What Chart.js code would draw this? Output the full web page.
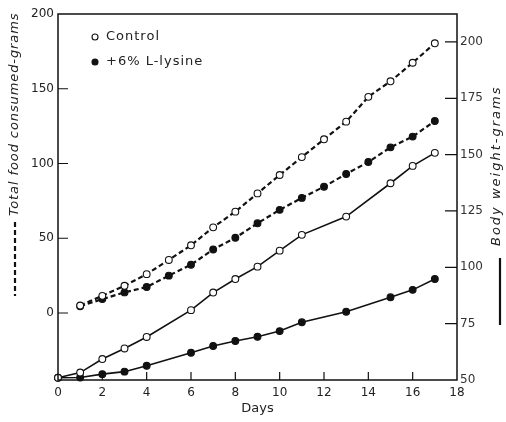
<!DOCTYPE html>
<html>
<head>
<meta charset="utf-8">
<script src="https://cdn.jsdelivr.net/npm/chart.js@4/dist/chart.umd.min.js"></script>
<style>
  html, body { margin: 0; padding: 0; background: #fff; }
  #chart { display: block; }
</style>
</head>
<body>
<canvas id="chart" width="506" height="422"></canvas>
<script>
// days on which food intake was recorded
const foodDays = [1, 2, 3, 4, 5, 6, 7, 8, 9, 10, 11, 12, 13, 14, 15, 16, 17];
const controlFood = [5, 11.5, 18.2, 26, 35.5, 45.3, 57.3, 67.8, 80, 92.3, 104.3, 116.2, 128, 144.6, 155, 167.4, 180.4];
const lysineFood = [4.5, 9.3, 13.8, 17.4, 25, 32.3, 42.5, 50.3, 60, 69, 77, 84.5, 93, 101, 110.8, 118, 128.4];

// days on which body weight was recorded
const weightDays = [0, 1, 2, 3, 4, 6, 7, 8, 9, 10, 11, 13, 15, 16, 17];
const controlWeight = [51, 53.3, 59.3, 64, 69.1, 81, 88.8, 94.8, 100.3, 107.4, 114.4, 122.5, 137.3, 145, 150.8];
const lysineWeight = [51, 51.1, 52.6, 53.7, 56.3, 62.1, 65.1, 67.3, 69.2, 71.7, 75.6, 80.3, 86.7, 90, 94.8];

const xTicks = [0, 2, 4, 6, 8, 10, 12, 14, 16, 18];
const foodTicks = [0, 50, 100, 150, 200];
const weightTicks = [50, 75, 100, 125, 150, 175, 200];

const legendLabels = ['Control', '+6% L-lysine'];

const ink = '#111';
const font = "'DejaVu Sans', sans-serif";

function pts(xs, ys) {
    return xs.map((x, i) => ({ x: x, y: ys[i] }));
}

function series(label, xs, ys, axis, filled, dashed) {
    return {
        label: label,
        data: pts(xs, ys),
        yAxisID: axis,
        borderColor: ink,
        borderWidth: dashed ? 2.2 : 1.6,
        borderDash: dashed ? [5, 3] : [],
        tension: 0,
        pointRadius: 3.4,
        pointBorderWidth: 1.1,
        pointBorderColor: ink,
        pointBackgroundColor: filled ? ink : '#fff',
        clip: false
    };
}

// frame, inward tick marks, side titles and legend
const decor = {
    id: 'decor',
    afterDatasetsDraw(chart) {
        const ctx = chart.ctx;
        const a = chart.chartArea;
        const sx = chart.scales.x, sl = chart.scales.yFood, sr = chart.scales.yWeight;
        ctx.save();
        ctx.strokeStyle = ink;
        ctx.lineWidth = 1.5;
        ctx.setLineDash([]);
        ctx.strokeRect(a.left, a.top, a.right - a.left, a.bottom - a.top);

        ctx.lineWidth = 1.2;
        ctx.beginPath();
        xTicks.slice(1, -1).forEach(v => {
            const px = sx.getPixelForValue(v);
            ctx.moveTo(px, a.bottom);
            ctx.lineTo(px, a.bottom - 8);
        });
        foodTicks.slice(0, -1).forEach(v => {
            const py = sl.getPixelForValue(v);
            ctx.moveTo(a.left, py);
            ctx.lineTo(a.left + 10, py);
        });
        weightTicks.slice(1).forEach(v => {
            const py = sr.getPixelForValue(v);
            ctx.moveTo(a.right, py);
            ctx.lineTo(a.right - 12, py);
        });
        ctx.stroke();

        // legend
        const lx = 95;
        [37, 62].forEach((ly, i) => {
            ctx.beginPath();
            ctx.arc(lx, ly, 3, 0, Math.PI * 2);
            ctx.fillStyle = i === 0 ? '#fff' : ink;
            ctx.fill();
            ctx.lineWidth = 1.1;
            ctx.stroke();
            ctx.fillStyle = '#222';
            ctx.font = '13px ' + font;
            ctx.letterSpacing = '1px';
            ctx.textAlign = 'left';
            ctx.textBaseline = 'middle';
            ctx.fillText(legendLabels[i], 106, ly);
        });

        // left title with dashed key
        ctx.font = 'italic 13px ' + font;
        ctx.letterSpacing = '0.9px';
        ctx.fillStyle = '#222';
        ctx.translate(15, 216);
        ctx.rotate(-Math.PI / 2);
        ctx.textAlign = 'left';
        ctx.textBaseline = 'middle';
        ctx.fillText('Total food consumed-grams', 0, 0);
        ctx.lineWidth = 2.2;
        ctx.setLineDash([5, 3]);
        ctx.beginPath();
        ctx.moveTo(-6, 0);
        ctx.lineTo(-80, 0);
        ctx.stroke();
        ctx.setTransform(1, 0, 0, 1, 0, 0);

        // right title with solid key
        ctx.translate(497, 246);
        ctx.rotate(-Math.PI / 2);
        ctx.letterSpacing = '2px';
        ctx.fillText('Body weight-grams', 0, 0);
        ctx.setLineDash([]);
        ctx.lineWidth = 2.2;
        ctx.beginPath();
        ctx.moveTo(-12, 3);
        ctx.lineTo(-79, 3);
        ctx.stroke();
        ctx.restore();
    }
};

new Chart(document.getElementById('chart').getContext('2d'), {
    type: 'line',
    data: {
        datasets: [
            series('Control food', foodDays, controlFood, 'yFood', false, true),
            series('L-lysine food', foodDays, lysineFood, 'yFood', true, true),
            series('Control weight', weightDays, controlWeight, 'yWeight', false, false),
            series('L-lysine weight', weightDays, lysineWeight, 'yWeight', true, false)
        ]
    },
    options: {
        responsive: false,
        animation: false,
        layout: { padding: { top: 14, left: 0, right: 0, bottom: 0 } },
        plugins: { legend: { display: false }, tooltip: { enabled: false } },
        scales: {
            x: {
                type: 'linear',
                min: 0, max: 18,
                afterBuildTicks: s => { s.ticks = xTicks.map(v => ({ value: v })); },
                afterFit: s => { s.height = 42; },
                grid: { display: false, drawTicks: false },
                border: { display: false },
                ticks: { padding: 6, color: '#222', font: { family: font, size: 12 } },
                title: { display: true, text: 'Days', color: '#222', padding: { top: 4, bottom: 6 },
                         font: { family: font, size: 13 } }
            },
            yFood: {
                position: 'left',
                min: -44.8, max: 200,
                afterBuildTicks: s => { s.ticks = foodTicks.map(v => ({ value: v })); },
                afterFit: s => { s.width = 58; },
                grid: { display: false, drawTicks: false },
                border: { display: false },
                ticks: { padding: 4, color: '#222', font: { family: font, size: 12 } }
            },
            yWeight: {
                position: 'right',
                min: 50, max: 212.4,
                afterBuildTicks: s => { s.ticks = weightTicks.map(v => ({ value: v })); },
                afterFit: s => { s.width = 49; },
                grid: { display: false, drawTicks: false },
                border: { display: false },
                ticks: { padding: 3, color: '#333', font: { family: font, size: 12 } }
            }
        }
    },
    plugins: [decor]
});
</script>
</body>
</html>
